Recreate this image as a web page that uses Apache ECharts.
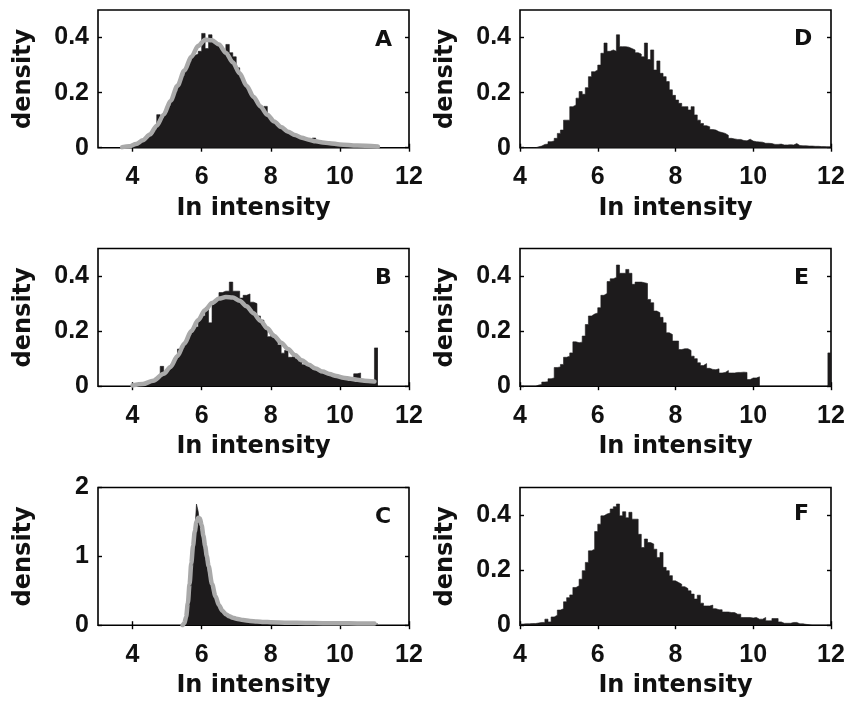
<!DOCTYPE html>
<html><head><meta charset="utf-8">
<script src="https://cdn.jsdelivr.net/npm/echarts@6/dist/echarts.min.js"></script>
<style>html,body{margin:0;padding:0;background:#fff}#c{width:850px;height:702px}</style>
</head><body><div id="c"></div>
<script>
// ---------- data ----------
const panelLabels = ['A', 'B', 'C', 'D', 'E', 'F'];
const xTicks = [4, 6, 8, 10, 12];
const yTicksDensity = [0, 0.2, 0.4];
const yTicksC = [0, 1, 2];

// histograms: first bin edge, bin width, densities
const histA_start = 3.7, histA_width = 0.1;
const histA = [
  0.002,0.004,0.006,0.01,0.014,0.021,0.028,0.04,0.05,0.066,
  0.12,0.108,0.128,0.152,0.178,0.205,0.232,0.26,0.287,0.313,
  0.335,0.34,0.35,0.415,0.36,0.41,0.385,0.376,0.365,0.35,
  0.375,0.345,0.33,0.29,0.255,0.233,0.212,0.192,0.173,0.155,
  0.14,0.15,0.112,0.099,0.088,0.078,0.068,0.06,0.053,0.047,
  0.042,0.037,0.033,0.029,0.026,0.035,0.021,0.019,0.017,0.016,
  0.014,0.013,0.012,0.011,0.011,0.01,0.009,0.009,0.008,0.007,
  0.006,0.006,0.005,0.004
];
const histB_start = 4.0, histB_width = 0.1;
const histB = [
  0.003,0.004,0.006,0.008,0.011,0.016,0.022,0.03,0.072,0.048,
  0.06,0.078,0.098,0.135,0.14,0.162,0.185,0.205,0.215,0.245,
  0.255,0.285,0.23,0.3,0.312,0.34,0.345,0.345,0.378,0.345,
  0.345,0.32,0.33,0.335,0.305,0.3,0.255,0.24,0.215,0.18,
  0.19,0.175,0.15,0.12,0.13,0.105,0.11,0.1,0.09,0.078,
  0.075,0.068,0.06,0.058,0.05,0.048,0.045,0.04,0.036,0.034,
  0.03,0.03,0.028,0.03,0.045,0.048,0.025,0.022,0.02,0.02,
  0.139
];
const histC_start = 5.5, histC_width = 0.05;
const histC = [
  0.02,0.1,0.3,0.6,0.88,1.12,1.35,1.76,1.65,1.45,
  1.3,1.15,1.0,0.86,0.73,0.62,0.52,0.44,0.37,0.31,
  0.26,0.22,0.19,0.17,0.15,0.135,0.12,0.11,0.1,0.095,
  0.088,0.083,0.078,0.074,0.07,0.066,0.063,0.06,0.058,0.056,
  0.053,0.051,0.05,0.048,0.047,0.046,0.045,0.044,0.043,0.042,
  0.041,0.04,0.04,0.039,0.038,0.038,0.037,0.036,0.036,0.035,
  0.035,0.034,0.034,0.033,0.033,0.033,0.032,0.032,0.031,0.031,
  0.031,0.03,0.03,0.03,0.029,0.029,0.029,0.028,0.028,0.028,
  0.028,0.027,0.027,0.027,0.027,0.026,0.026,0.026,0.026,0.025,
  0.025,0.025,0.025,0.025,0.024,0.024,0.024,0.024,0.024,0.023,
  0.023,0.023,0.023,0.023,0.022,0.022,0.022,0.022,0.022,0.021,
  0.021,0.021
];
const histD_start = 4.0, histD_width = 0.08;
const histD = [
  0,0,0,0,0,0.003,0.006,0.012,0.013,0.022,
  0.024,0.034,0.052,0.064,0.1,0.1,0.149,0.155,0.18,0.204,
  0.194,0.218,0.258,0.276,0.282,0.3,0.343,0.38,0.35,0.355,
  0.35,0.41,0.367,0.367,0.365,0.36,0.355,0.345,0.34,0.33,
  0.38,0.32,0.355,0.282,0.315,0.27,0.258,0.24,0.21,0.19,
  0.173,0.161,0.149,0.149,0.137,0.149,0.119,0.1,0.088,0.08,
  0.076,0.066,0.064,0.058,0.055,0.052,0.045,0.034,0.032,0.03,
  0.03,0.026,0.025,0.031,0.024,0.022,0.021,0.02,0.016,0.016,
  0.015,0.012,0.012,0.013,0.01,0.01,0.011,0.01,0.015,0.008,
  0.007,0.007,0.006,0.006,0.005,0.005,0.004,0.004,0.003,0.003
];
const histE_start = 4.0, histE_width = 0.08;
const histE = [
  0,0,0,0,0,0.004,0.006,0.015,0.016,0.027,
  0.03,0.068,0.07,0.079,0.105,0.109,0.121,0.161,0.158,0.16,
  0.182,0.224,0.255,0.262,0.266,0.285,0.33,0.337,0.38,0.39,
  0.395,0.44,0.41,0.41,0.424,0.41,0.37,0.378,0.378,0.376,
  0.373,0.315,0.303,0.273,0.267,0.25,0.23,0.194,0.188,0.164,
  0.164,0.133,0.136,0.136,0.13,0.109,0.1,0.085,0.075,0.082,
  0.065,0.061,0.06,0.063,0.048,0.05,0.057,0.048,0.048,0.05,
  0.05,0.051,0.05,0.024,0.03,0.03,0.034,0,0,0,
  0,0,0,0,0,0,0,0,0,0,
  0,0,0,0,0,0,0,0,0,0.121
];
const histF_start = 4.0, histF_width = 0.08;
const histF = [
  0.004,0.005,0.005,0.006,0.006,0.008,0.01,0.01,0.022,0.012,
  0.03,0.036,0.055,0.06,0.085,0.1,0.11,0.137,0.143,0.167,
  0.198,0.228,0.27,0.276,0.34,0.367,0.397,0.404,0.407,0.422,
  0.43,0.44,0.397,0.412,0.39,0.41,0.385,0.385,0.33,0.282,
  0.313,0.3,0.295,0.276,0.246,0.264,0.21,0.198,0.18,0.161,
  0.155,0.149,0.14,0.133,0.125,0.113,0.095,0.109,0.08,0.07,
  0.07,0.073,0.06,0.056,0.056,0.048,0.048,0.046,0.046,0.04,
  0.04,0.028,0.028,0.028,0.026,0.028,0.022,0.022,0.028,0.016,
  0.016,0.024,0.024,0.012,0.007,0.007,0.007,0.01,0.01,0.005,
  0.005,0.003,0.002,0,0,0,0,0,0,0
];

// fitted density curves (grey)
const curveA_x = [3.7,3.9,4.1,4.3,4.5,4.7,4.9,5.1,5.3,5.5,5.7,5.9,6.1,6.3,6.5,6.7,6.9,7.1,7.3,7.5,7.7,7.9,8.1,8.3,8.5,8.7,8.9,9.1,9.3,9.5,9.7,10.0,10.5,11.1];
const curveA_y = [0.002,0.005,0.013,0.027,0.048,0.08,0.12,0.17,0.225,0.28,0.33,0.37,0.392,0.39,0.375,0.345,0.31,0.27,0.225,0.185,0.15,0.12,0.095,0.075,0.058,0.046,0.036,0.029,0.023,0.019,0.016,0.012,0.008,0.004];
const curveB_x = [4.0,4.3,4.6,4.9,5.1,5.3,5.5,5.7,5.9,6.1,6.3,6.5,6.7,6.9,7.1,7.3,7.5,7.7,7.9,8.1,8.3,8.5,8.7,8.9,9.1,9.3,9.5,9.7,9.9,10.1,10.3,10.5,10.7,11.0];
const curveB_y = [0.003,0.008,0.02,0.045,0.07,0.11,0.155,0.2,0.24,0.277,0.302,0.318,0.324,0.322,0.31,0.29,0.265,0.238,0.21,0.182,0.158,0.135,0.113,0.094,0.078,0.064,0.053,0.044,0.037,0.031,0.027,0.023,0.02,0.017];
const curveC_x = [5.45,5.5,5.55,5.6,5.65,5.7,5.75,5.8,5.85,5.9,5.95,6.0,6.05,6.1,6.15,6.2,6.3,6.4,6.5,6.6,6.7,6.8,6.9,7.0,7.2,7.4,7.6,7.8,8.0,8.5,9.0,9.5,10.0,10.5,11.0];
const curveC_y = [0.0,0.03,0.12,0.32,0.6,0.9,1.15,1.36,1.5,1.56,1.55,1.45,1.3,1.15,1.0,0.86,0.6,0.42,0.29,0.21,0.16,0.13,0.11,0.095,0.075,0.062,0.053,0.047,0.043,0.037,0.033,0.03,0.028,0.026,0.025];

// ---------- layout / style ----------
const HIST = '#1d1b1c';
const CURVE = '#a9a9a9';
const TICKFONT = 'Liberation Sans, Arial, sans-serif';
const NAMEFONT = 'DejaVu Sans, sans-serif';
const panels = [
  {label:'A', left:98,  top:10,    xmin:3, xmax:12, ymax:0.5, yt:yTicksDensity, hist:[histA_start,histA_width,histA], curve:[curveA_x,curveA_y], lab:[375,29]},
  {label:'B', left:98,  top:248.5, xmin:3, xmax:12, ymax:0.5, yt:yTicksDensity, hist:[histB_start,histB_width,histB], curve:[curveB_x,curveB_y], lab:[375,267.5]},
  {label:'C', left:98,  top:487.5, xmin:3, xmax:12, ymax:2,   yt:yTicksC,       hist:[histC_start,histC_width,histC], curve:[curveC_x,curveC_y], lab:[375,506.5]},
  {label:'D', left:520, top:10,    xmin:4, xmax:12, ymax:0.5, yt:yTicksDensity, hist:[histD_start,histD_width,histD], curve:null, lab:[794,28]},
  {label:'E', left:520, top:248.5, xmin:4, xmax:12, ymax:0.5, yt:yTicksDensity, hist:[histE_start,histE_width,histE], curve:null, lab:[794,267]},
  {label:'F', left:520, top:487.5, xmin:4, xmax:12, ymax:0.5, yt:yTicksDensity, hist:[histF_start,histF_width,histF], curve:null, lab:[794,503]}
];
const W = 311, H = 137.7;

function stepData(start, width, vals) {
  const out = [];
  vals.forEach((v, i) => {
    const x0 = +(start + i * width).toFixed(4);
    const x1 = +(start + (i + 1) * width).toFixed(4);
    out.push([x0, v], [x1, v]);
  });
  return out;
}

const grid = [], xAxis = [], yAxis = [], series = [], title = [];
const tickStyle = {show:true, inside:true, length:4, lineStyle:{color:'#000', width:1.4}};
panels.forEach((p, k) => {
  grid.push({left:p.left, top:p.top, width:W, height:H, show:true, borderColor:'#000', borderWidth:1.6, backgroundColor:'transparent'});
  xAxis.push({
    type:'value', gridIndex:k, min:p.xmin, max:p.xmax, position:'bottom',
    axisLine:{show:false}, splitLine:{show:false},
    axisTick:Object.assign({customValues:xTicks}, tickStyle),
    axisLabel:{customValues:xTicks, margin:17, fontSize:25, fontWeight:'bold', fontFamily:TICKFONT, color:'#111'},
    name:'In intensity', nameLocation:'middle', nameGap:49,
    nameTextStyle:{fontSize:24, fontWeight:'bold', fontFamily:NAMEFONT, color:'#111'}
  });
  xAxis.push({
    type:'value', gridIndex:k, min:p.xmin, max:p.xmax, position:'top',
    axisLine:{show:false}, splitLine:{show:false},
    axisTick:Object.assign({customValues:xTicks}, tickStyle),
    axisLabel:{show:false}
  });
  yAxis.push({
    type:'value', gridIndex:k, min:0, max:p.ymax, position:'left',
    axisLine:{show:false}, splitLine:{show:false},
    axisTick:Object.assign({customValues:p.yt}, tickStyle),
    axisLabel:{customValues:p.yt, margin:9, fontSize:25, fontWeight:'bold', fontFamily:TICKFONT, color:'#111'},
    name:'density', nameLocation:'middle', nameGap:62,
    nameTextStyle:{fontSize:24, fontWeight:'bold', fontFamily:NAMEFONT, color:'#111'}
  });
  yAxis.push({
    type:'value', gridIndex:k, min:0, max:p.ymax, position:'right',
    axisLine:{show:false}, splitLine:{show:false},
    axisTick:Object.assign({customValues:p.yt}, tickStyle),
    axisLabel:{show:false}
  });
  series.push({
    type:'line', xAxisIndex:2*k, yAxisIndex:2*k, data:stepData(p.hist[0], p.hist[1], p.hist[2]),
    symbol:'none', silent:true, lineStyle:{color:HIST, width:0.6}, areaStyle:{color:HIST, opacity:1}, z:2
  });
  if (p.curve) {
    series.push({
      type:'line', xAxisIndex:2*k, yAxisIndex:2*k,
      data:p.curve[0].map((x, i) => [x, p.curve[1][i]]),
      symbol:'none', silent:true, smooth:0.3, smoothMonotone:'x',
      lineStyle:{color:CURVE, width:4.5, cap:'round', join:'round'}, z:3
    });
  }
  title.push({text:p.label, left:p.lab[0], top:p.lab[1], padding:0,
    textStyle:{fontSize:22, fontWeight:'bold', fontFamily:NAMEFONT, color:'#111'}});
});

const chart = echarts.init(document.getElementById('c'), null, {renderer:'canvas'});
chart.setOption({animation:false, backgroundColor:'#fff', title, grid, xAxis, yAxis, series});
</script>
</body></html>
